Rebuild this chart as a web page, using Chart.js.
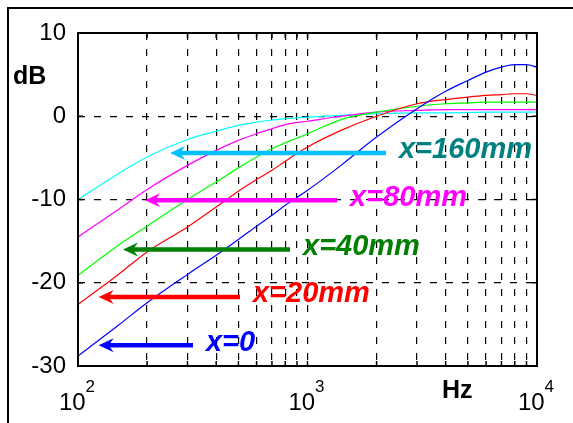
<!DOCTYPE html>
<html lang="en">
<head>
<meta charset="UTF-8">
<title>Frequency response vs. x</title>
<script src="https://cdn.jsdelivr.net/npm/chart.js"></script>
<style>
  body { margin: 0; background: #fff; }
  .frame { position: absolute; left: 7px; top: 7px; width: 600px; height: 450px;
           border-left: 2px solid #000; border-top: 2px solid #000; }
  #chart { position: absolute; left: 0; top: 0; }
</style>
</head>
<body>
<div class="frame"></div>
<canvas id="chart" width="573" height="423"></canvas>
<script>
// frequency points (Hz) shared by every curve
const freqs = [100, 150, 200, 300, 400, 500, 600, 700, 800, 1000, 1400, 2000, 3000, 4000, 5000, 6000, 7000, 8000, 9000, 10000];

// level in dB, one list per distance x
const dbX0   = [-28.8, -25.1, -22.4, -19.0, -16.7, -14.8, -13.2, -11.9, -10.7, -8.9, -5.9, -2.5, 0.9, 3.0, 4.3, 5.3, 5.9, 6.2, 6.2, 5.9];
const dbX20  = [-22.6, -19.0, -16.3, -13.3, -10.9, -9.0, -7.6, -6.5, -5.4, -3.7, -1.7, 0.0, 1.5, 2.0, 2.3, 2.5, 2.6, 2.7, 2.7, 2.5];
const dbX40  = [-19.1, -15.5, -13.2, -10.0, -7.9, -6.2, -4.9, -3.9, -3.2, -2.1, -0.4, 0.5, 1.2, 1.5, 1.6, 1.7, 1.7, 1.7, 1.7, 1.7];
const dbX80  = [-14.5, -11.2, -8.8, -5.9, -4.1, -2.9, -2.1, -1.5, -1.0, -0.6, 0.0, 0.5, 0.7, 0.8, 0.8, 0.8, 0.8, 0.8, 0.8, 0.8];
const dbX160 = [-10.0, -6.9, -4.9, -2.8, -1.8, -1.1, -0.7, -0.45, -0.3, -0.1, 0.1, 0.3, 0.4, 0.4, 0.45, 0.5, 0.5, 0.5, 0.5, 0.5];

const seriesNames = ['x=0', 'x=20mm', 'x=40mm', 'x=80mm', 'x=160mm'];

// axis ticks
const xGridValues = [100, 200, 300, 400, 500, 600, 700, 800, 900, 1000, 2000, 3000, 4000, 5000, 6000, 7000, 8000, 9000, 10000];
const xLabelExps = [2, 3, 4];
const yTicks = [-30, -20, -10, 0, 10];

// arrow annotations: level (dB), from tip freq to tail freq
const arrowLevels = [-27.5, -21.7, -16.0, -10.1, -4.4];
const arrowTips   = [123, 123, 157, 196, 252];
const arrowTails  = [317, 508, 839, 1346, 2198];

const lineColors  = ['#0000ff', '#ff0000', '#00ff00', '#ff00ff', '#00ffff'];
const arrowColors = ['#0000ff', '#ff0000', '#008000', '#ff00ff', '#00c0ff'];
const textColors  = ['#0000ff', '#ff0000', '#008000', '#ff00ff', '#008080'];

const FONT = '"Liberation Sans", Arial, Helvetica, sans-serif';

const allDb = [dbX0, dbX20, dbX40, dbX80, dbX160];
const datasets = allDb.map((vals, i) => ({
  label: seriesNames[i],
  data: freqs.map((f, k) => ({x: f, y: vals[k]})),
  borderColor: lineColors[i],
  borderWidth: 1.2,
  pointRadius: 0,
  fill: false,
  cubicInterpolationMode: 'monotone'
}));

const decorations = {
  id: 'decorations',
  afterDatasetsDraw(chart) {
    const {ctx, chartArea: a, scales: {x, y}} = chart;
    ctx.save();

    // solid box round the plot
    ctx.strokeStyle = '#000';
    ctx.lineWidth = 2;
    ctx.strokeRect(a.left, a.top, a.right - a.left, a.bottom - a.top);

    // inward tick marks
    ctx.lineWidth = 1.5;
    ctx.beginPath();
    x.ticks.forEach(t => {
      const px = x.getPixelForValue(t.value);
      ctx.moveTo(px, a.bottom); ctx.lineTo(px, a.bottom - 5);
      ctx.moveTo(px, a.top); ctx.lineTo(px, a.top + 5);
    });
    y.ticks.forEach(t => {
      const py = y.getPixelForValue(t.value);
      ctx.moveTo(a.left, py); ctx.lineTo(a.left + 5, py);
      ctx.moveTo(a.right, py); ctx.lineTo(a.right - 5, py);
    });
    ctx.stroke();

    // x tick labels as 10^n
    ctx.fillStyle = '#000';
    ctx.textBaseline = 'alphabetic';
    ctx.textAlign = 'left';
    xLabelExps.forEach(e => {
      const px = x.getPixelForValue(Math.pow(10, e));
      ctx.font = '24px ' + FONT;
      const bw = ctx.measureText('10').width;
      ctx.font = '17px ' + FONT;
      const sw = ctx.measureText(String(e)).width;
      const left = px - 1 - (bw + sw) / 2;
      ctx.font = '24px ' + FONT;
      ctx.fillText('10', left, 410);
      ctx.font = '17px ' + FONT;
      ctx.fillText(String(e), left + bw, 392);
    });

    // axis names
    ctx.font = 'bold 25px ' + FONT;
    ctx.fillText('dB', 13, 84);
    ctx.fillText('Hz', 442, 398);

    // arrows and their labels
    arrowLevels.forEach((lev, i) => {
      const py = y.getPixelForValue(lev);
      const tip = x.getPixelForValue(arrowTips[i]);
      const tail = x.getPixelForValue(arrowTails[i]);
      ctx.strokeStyle = arrowColors[i];
      ctx.fillStyle = arrowColors[i];
      ctx.lineWidth = 4.5;
      ctx.beginPath();
      ctx.moveTo(tail, py);
      ctx.lineTo(tip + 8, py);
      ctx.stroke();
      ctx.beginPath();
      ctx.moveTo(tip, py);
      ctx.lineTo(tip + 15, py - 7);
      ctx.lineTo(tip + 10, py);
      ctx.lineTo(tip + 15, py + 7);
      ctx.closePath();
      ctx.fill();

      ctx.fillStyle = textColors[i];
      ctx.font = 'italic bold 29px ' + FONT;
      ctx.fillText(seriesNames[i], tail + 13, py + 5.5);
    });
    ctx.restore();
  }
};

new Chart(document.getElementById('chart'), {
  type: 'line',
  data: { datasets: datasets },
  options: {
    responsive: false,
    animation: false,
    layout: { padding: { top: 33, right: 36, left: 0, bottom: 0 } },
    plugins: { legend: { display: false }, tooltip: { enabled: false } },
    scales: {
      x: {
        type: 'logarithmic',
        min: 100,
        max: 10000,
        afterBuildTicks: s => { s.ticks = xGridValues.map(v => ({value: v})); },
        afterFit: s => { s.height = 57; },
        ticks: { display: false },
        grid: { color: '#000', lineWidth: 1.2, drawTicks: false },
        border: { display: false, dash: [7, 9] }
      },
      y: {
        min: -30,
        max: 10,
        afterBuildTicks: s => { s.ticks = yTicks.map(v => ({value: v})); },
        afterFit: s => { s.width = 78; },
        ticks: { color: '#000', padding: 12, font: { family: FONT, size: 24 } },
        grid: { color: '#000', lineWidth: 1.2, drawTicks: false },
        border: { display: false, dash: [7, 9] }
      }
    }
  },
  plugins: [decorations]
});
</script>
</body>
</html>
